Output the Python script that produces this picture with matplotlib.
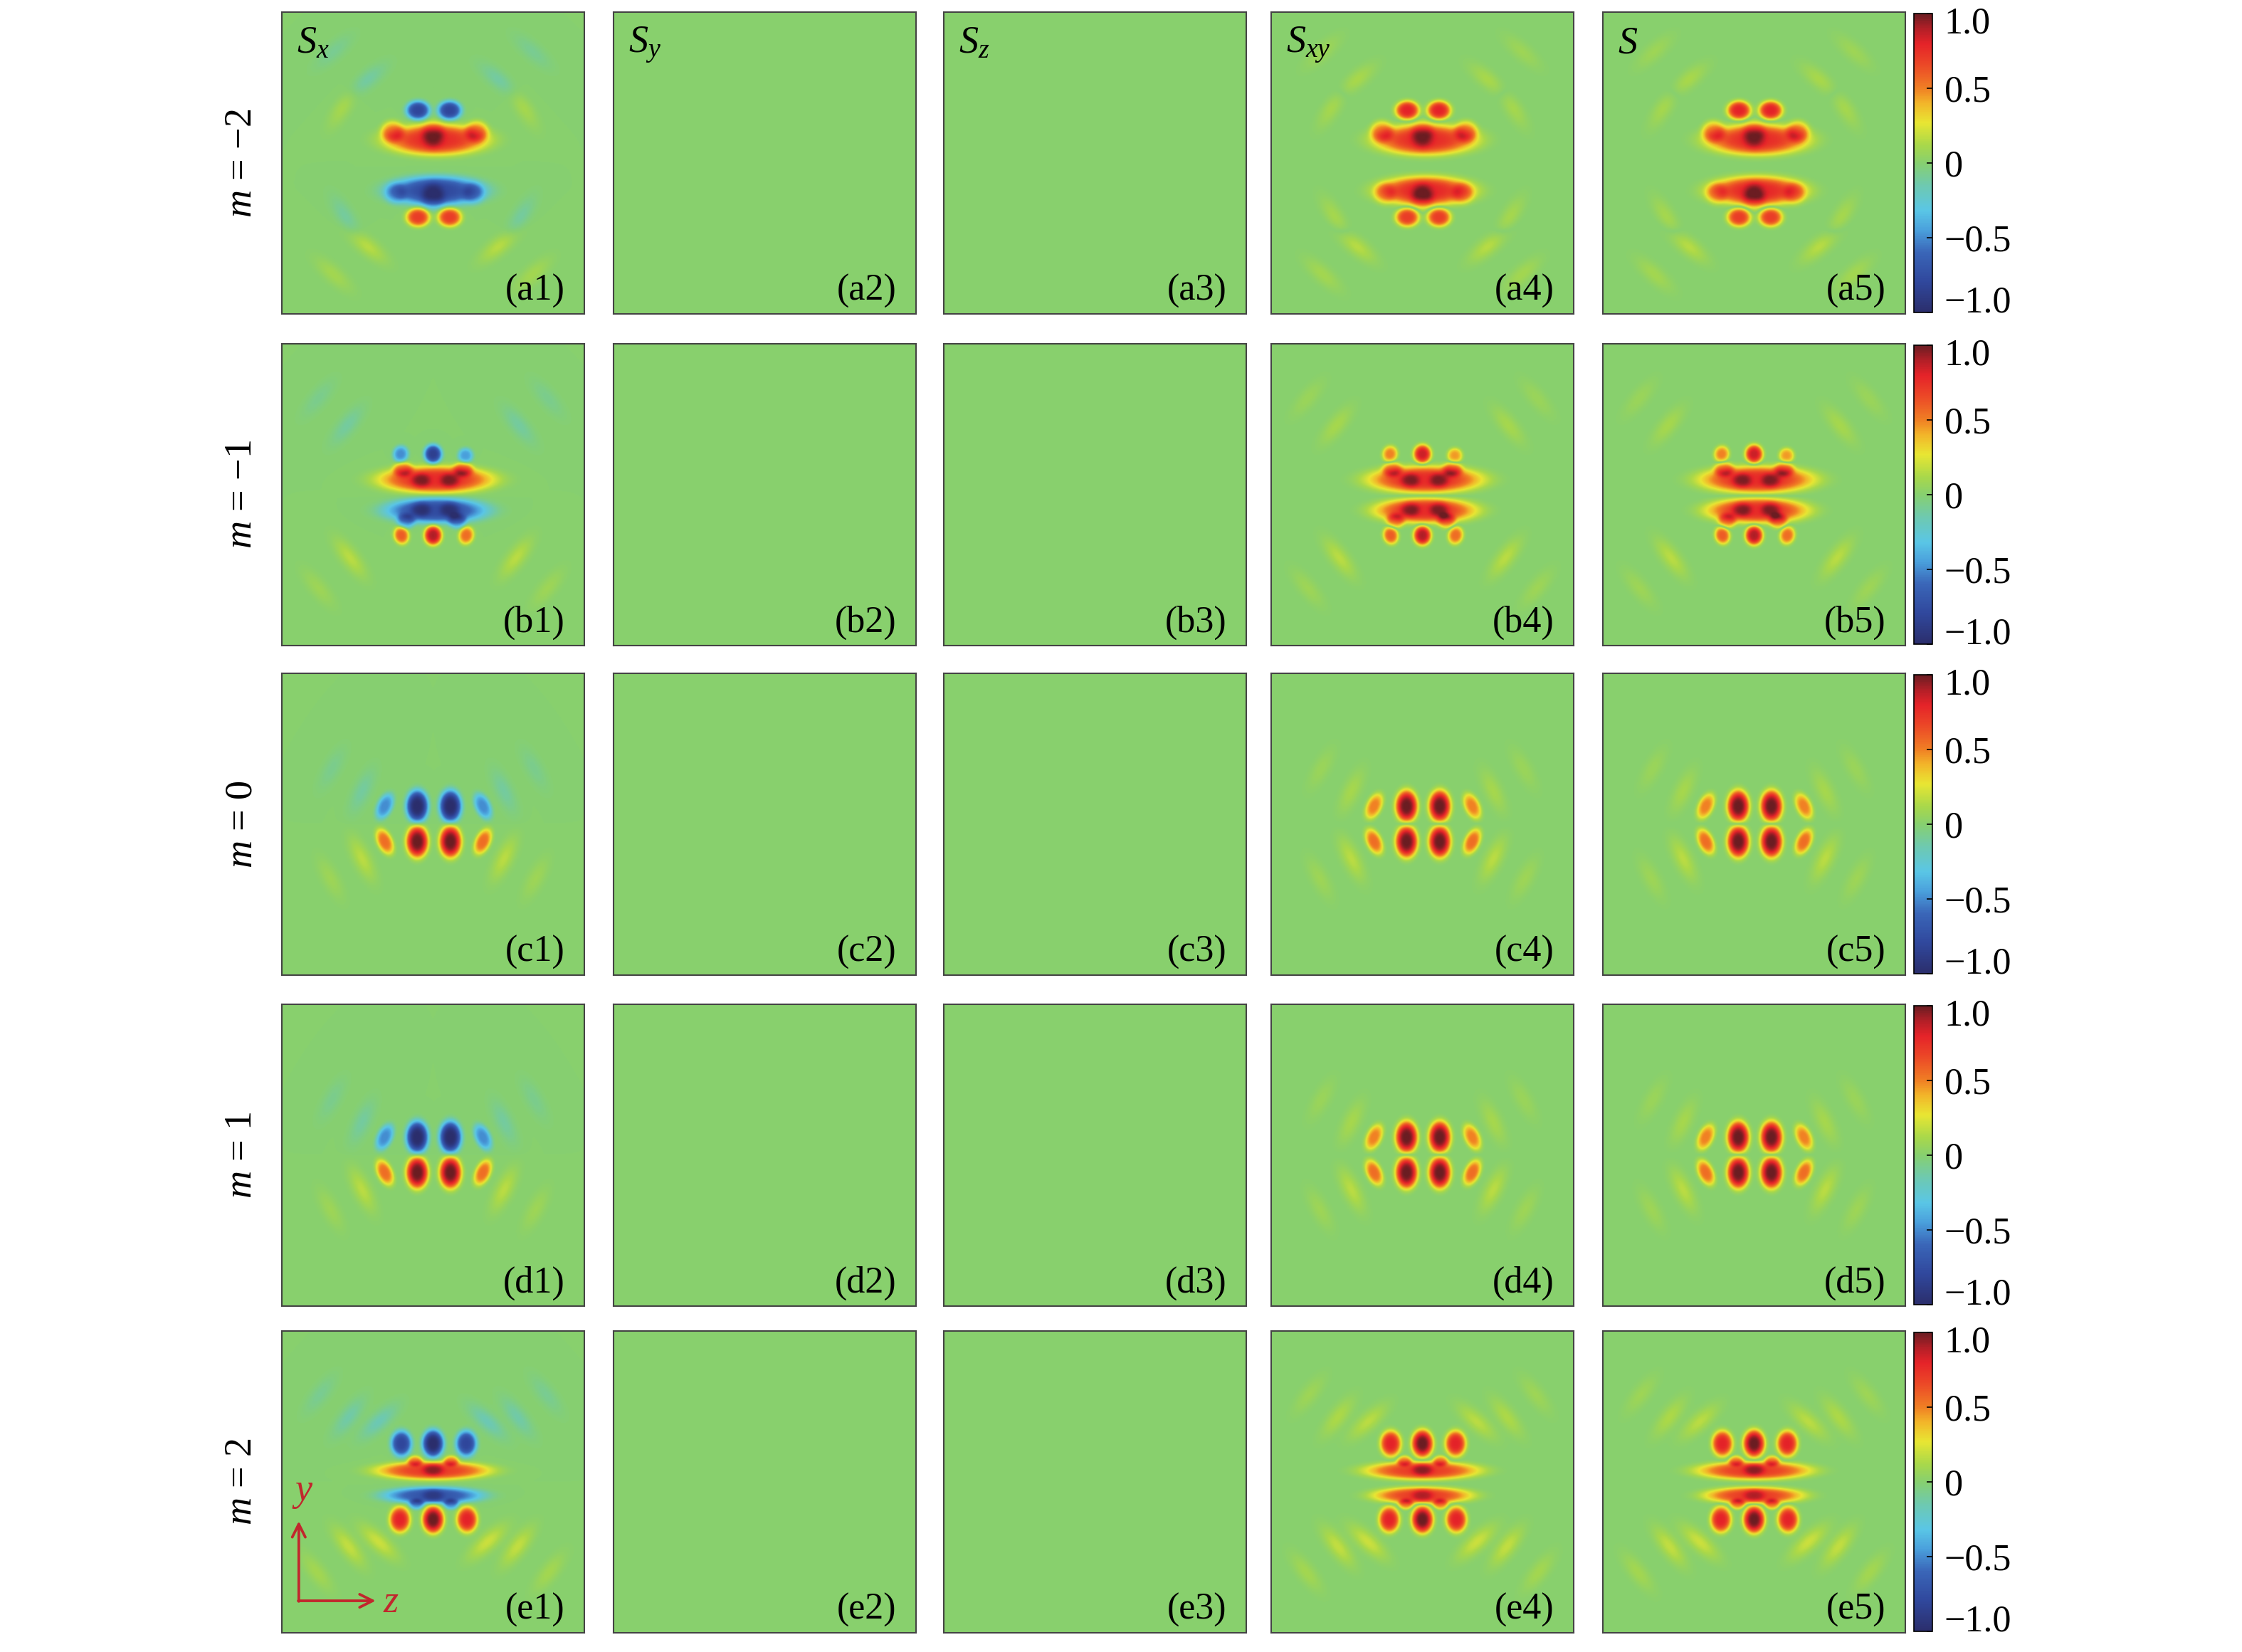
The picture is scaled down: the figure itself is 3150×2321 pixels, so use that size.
import numpy as np
import matplotlib.pyplot as plt
import matplotlib.transforms as mtransforms
from matplotlib.colors import LinearSegmentedColormap

plt.rcParams['font.family'] = ['Liberation Serif', 'DejaVu Serif']
plt.rcParams['mathtext.fontset'] = 'custom'
plt.rcParams['mathtext.rm'] = 'Liberation Serif'
plt.rcParams['mathtext.it'] = 'Liberation Serif:italic'

m_labels = ['\u22122', '\u22121', '0', '1', '2']
row_letters = ['a', 'b', 'c', 'd', 'e']
col_titles = ['$S_x$', '$S_y$', '$S_z$', '$S_{xy}$', '$S$']
cbar_ticks = [-1.0, -0.5, 0.0, 0.5, 1.0]
cbar_labels = ['\u22121.0', '\u22120.5', '0', '0.5', '1.0']

# lobes of S_x: centre (z, y), peak, half widths, tilt (deg)
# m = -2
a_z = [-0.10, 0.11, 0.02, 0.0, -0.27, 0.29, 0.02, 0.0, -0.25, 0.27, -0.10, 0.11]
a_y = [0.35, 0.35, 0.155, 0.19, 0.21, 0.21, -0.185, -0.225, -0.20, -0.20, -0.36, -0.36]
a_amp = [-0.8, -0.8, 0.76, 0.25, 0.4, 0.4, -0.78, -0.25, -0.25, -0.25, 0.7, 0.7]
a_wz = [0.078, 0.078, 0.33, 0.075, 0.075, 0.075, 0.31, 0.075, 0.07, 0.07, 0.078, 0.078]
a_wy = [0.062, 0.062, 0.1, 0.09, 0.07, 0.07, 0.095, 0.09, 0.07, 0.07, 0.062, 0.062]
a_tilt = [0] * 12
a_rip_z = [-0.44, 0.44, -0.44, 0.44, -0.60, 0.60, -0.58, 0.58, -0.66, 0.66, -0.66, 0.66]
a_rip_y = [0.55, 0.55, -0.55, -0.55, 0.37, 0.37, -0.36, -0.36, 0.74, 0.74, -0.74, -0.74]
a_rip_amp = [-0.12, -0.12, 0.16, 0.16, 0.11, 0.11, -0.11, -0.11, -0.08, -0.08, 0.1, 0.1]

# m = -1
b_z = [-0.215, 0.0, 0.215, 0.02, -0.08, 0.11, -0.2, 0.2,
       0.02, -0.08, 0.11, -0.18, 0.16, -0.21, 0.0, 0.22]
b_y = [0.27, 0.27, 0.26, 0.10, 0.095, 0.095, 0.17, 0.17,
       -0.105, -0.10, -0.10, -0.175, -0.175, -0.27, -0.27, -0.27]
b_amp = [-0.5, -0.85, -0.45, 0.76, 0.22, 0.22, 0.4, 0.4,
         -0.76, -0.22, -0.22, -0.4, -0.4, 0.6, 0.9, 0.55]
b_wz = [0.05, 0.058, 0.05, 0.37, 0.065, 0.065, 0.065, 0.065,
        0.33, 0.065, 0.065, 0.06, 0.06, 0.05, 0.058, 0.05]
b_wy = [0.055, 0.062, 0.05, 0.088, 0.05, 0.05, 0.05, 0.05,
        0.082, 0.05, 0.05, 0.05, 0.05, 0.06, 0.065, 0.06]
b_tilt = [-15, 0, 15, 0, 0, 0, 0, 0, 0, 0, 0, 0, 0, 15, 0, -15]
b_rip_z = [-0.57, 0.57, -0.55, 0.55, -0.76, 0.76, -0.76, 0.76]
b_rip_y = [0.46, 0.46, -0.42, -0.42, 0.64, 0.64, -0.62, -0.62]
b_rip_amp = [-0.11, -0.11, 0.16, 0.16, -0.07, -0.07, 0.08, 0.08]

# m = 0 (m = 1 looks the same)
c_z = [-0.32, -0.105, 0.115, 0.33, -0.32, -0.105, 0.115, 0.33]
c_y = [0.12, 0.12, 0.12, 0.12, -0.115, -0.115, -0.115, -0.115]
c_amp = [-0.5, -1.0, -1.0, -0.5, 0.55, 1.0, 1.0, 0.55]
c_wz = [0.05, 0.072, 0.072, 0.05, 0.05, 0.072, 0.072, 0.05]
c_wy = [0.09, 0.105, 0.105, 0.09, 0.09, 0.105, 0.105, 0.09]
c_tilt = [-25, 0, 0, 25, 25, 0, 0, -25]
c_rip_z = [-0.47, 0.47, -0.47, 0.47, -0.67, 0.67, -0.68, 0.68]
c_rip_y = [0.22, 0.22, -0.23, -0.23, 0.37, 0.37, -0.36, -0.36]
c_rip_amp = [-0.11, -0.11, 0.16, 0.16, -0.07, -0.07, 0.08, 0.08]

d_z, d_y, d_amp, d_wz, d_wy, d_tilt = c_z, c_y, c_amp, c_wz, c_wy, c_tilt
d_rip_z, d_rip_y, d_rip_amp = c_rip_z, c_rip_y, c_rip_amp

# m = 2
e_z = [-0.21, 0.0, 0.22, 0.0, 0.0, -0.12, 0.12,
       0.0, 0.0, -0.11, 0.12, -0.22, 0.0, 0.225]
e_y = [0.255, 0.255, 0.255, 0.075, 0.08, 0.14, 0.14,
       -0.09, -0.09, -0.148, -0.148, -0.25, -0.25, -0.25]
e_amp = [-0.8, -1.0, -0.8, 0.7, 0.25, 0.45, 0.45,
         -0.7, -0.2, -0.45, -0.45, 0.8, 1.0, 0.8]
e_wz = [0.068, 0.07, 0.068, 0.37, 0.07, 0.05, 0.05,
        0.32, 0.07, 0.05, 0.05, 0.068, 0.07, 0.068]
e_wy = [0.085, 0.09, 0.085, 0.06, 0.04, 0.035, 0.035,
        0.055, 0.04, 0.035, 0.035, 0.085, 0.09, 0.085]
e_tilt = [0] * 14
e_rip_z = [-0.36, 0.36, -0.56, 0.56, -0.75, 0.75, -0.36, 0.36, -0.56, 0.56, -0.77, 0.77]
e_rip_y = [0.40, 0.40, 0.43, 0.43, 0.58, 0.58, -0.40, -0.40, -0.43, -0.43, -0.60, -0.60]
e_rip_amp = [-0.16, -0.16, -0.13, -0.13, -0.08, -0.08, 0.2, 0.2, 0.18, 0.18, 0.1, 0.1]

rows = [
    (a_z, a_y, a_amp, a_wz, a_wy, a_tilt, a_rip_z, a_rip_y, a_rip_amp),
    (b_z, b_y, b_amp, b_wz, b_wy, b_tilt, b_rip_z, b_rip_y, b_rip_amp),
    (c_z, c_y, c_amp, c_wz, c_wy, c_tilt, c_rip_z, c_rip_y, c_rip_amp),
    (d_z, d_y, d_amp, d_wz, d_wy, d_tilt, d_rip_z, d_rip_y, d_rip_amp),
    (e_z, e_y, e_amp, e_wz, e_wy, e_tilt, e_rip_z, e_rip_y, e_rip_amp),
]

# jet-like colour scale of the figure
cmap_vals = [-1, -0.8, -0.6, -0.45, -0.32, -0.15, 0, 0.12, 0.27, 0.4, 0.5, 0.65, 0.8, 0.9, 1]
cmap_cols = ['#2b2e6c', '#30479c', '#3a66b8', '#4aa0dc', '#5ac6e6', '#6ec9b0', '#87d06f',
             '#a9d84a', '#e8e633', '#f2b62a', '#f08024', '#ec4b27', '#e52329', '#b31f27', '#6b1d22']
cmap = LinearSegmentedColormap.from_list(
    'spin', [((v + 1) / 2, c) for v, c in zip(cmap_vals, cmap_cols)])

N = 401
g = np.linspace(-1, 1, N)
Z, Y = np.meshgrid(g, g)


def blobs(zs, ys, amps, wz, wy, tilt, p):
    f = np.zeros_like(Z)
    for z0, y0, a, sz, sy, t in zip(zs, ys, amps, wz, wy, tilt):
        th = np.deg2rad(t)
        u = (Z - z0) * np.cos(th) + (Y - y0) * np.sin(th)
        v = -(Z - z0) * np.sin(th) + (Y - y0) * np.cos(th)
        f += a * np.exp(-((u / sz) ** 2 + (v / sy) ** 2) ** p)
    return f


def sx_field(z, y, amp, wz, wy, tilt, rz, ry, ramp):
    f = blobs(z, y, amp, wz, wy, tilt, 1.8)
    # faint side ripples, stretched along the arcs round the centre
    rt = [np.degrees(np.arctan2(yy, zz)) for zz, yy in zip(rz, ry)]
    f += blobs(rz, ry, ramp, [0.055] * len(rz), [0.15] * len(rz), rt, 1.0)
    return np.clip(f, -1, 1)


W, H = 3150, 2321
fig = plt.figure(figsize=(W / 300, H / 300), dpi=300)

col_left = [396, 862, 1326, 1786, 2252]
row_top = [17, 483, 946, 1411, 1870]
pw, ph = 425, 424
red = '#c1272d'

for i in range(5):
    sx = sx_field(*rows[i])
    sy = np.zeros_like(sx)
    sz = np.zeros_like(sx)
    sxy = np.sqrt(sx ** 2 + sy ** 2)
    s = np.sqrt(sx ** 2 + sy ** 2 + sz ** 2)
    fields = [sx, sy, sz, sxy, s]
    for j in range(5):
        ax = fig.add_axes([col_left[j] / W, 1 - (row_top[i] + ph) / H, pw / W, ph / H])
        im = ax.imshow(fields[j], origin='lower', extent=(-1, 1, -1, 1), cmap=cmap,
                       vmin=-1, vmax=1, interpolation='bilinear', aspect='auto')
        ax.set_xticks([])
        ax.set_yticks([])
        for sp in ax.spines.values():
            sp.set_linewidth(0.5)
            sp.set_color('#444444')
        ax.text(0.935, 0.02, f'({row_letters[i]}{j + 1})', transform=ax.transAxes,
                ha='right', va='bottom', fontsize=12.5)
        if i == 0:
            ax.text(0.05, 0.955, col_titles[j], transform=ax.transAxes,
                    ha='left', va='top', fontsize=13)
        if i == 4 and j == 0:
            ax.annotate('', xy=(0.056, 0.37), xytext=(0.056, 0.104), xycoords='axes fraction',
                        arrowprops=dict(arrowstyle='->', color=red, lw=0.9, mutation_scale=11,
                                        shrinkA=0, shrinkB=0))
            ax.annotate('', xy=(0.31, 0.106), xytext=(0.054, 0.106), xycoords='axes fraction',
                        arrowprops=dict(arrowstyle='->', color=red, lw=0.9, mutation_scale=11,
                                        shrinkA=0, shrinkB=0))
            ax.text(0.07, 0.465, '$y$', transform=ax.transAxes, color=red,
                    ha='center', va='center', fontsize=13)
            ax.text(0.335, 0.10, '$z$', transform=ax.transAxes, color=red,
                    ha='left', va='center', fontsize=13)

    cax = fig.add_axes([2689 / W, 1 - (row_top[i] + ph - 2) / H, 26 / W, (ph - 4) / H])
    cb = fig.colorbar(im, cax=cax, ticks=cbar_ticks)
    cb.set_ticklabels(cbar_labels)
    cb.outline.set_linewidth(0.4)
    cax.tick_params(direction='in', length=2, width=0.4, labelsize=12.5, pad=4)
    # end labels sit a little inside the bar, as in the figure
    tl = cax.get_yticklabels()
    tl[0].set_transform(tl[0].get_transform()
                        + mtransforms.ScaledTranslation(0, 4.5 / 72, fig.dpi_scale_trans))
    tl[-1].set_transform(tl[-1].get_transform()
                         + mtransforms.ScaledTranslation(0, -2.2 / 72, fig.dpi_scale_trans))

    fig.text(340 / W, 1 - (row_top[i] + ph / 2) / H, '$m$ = ' + m_labels[i],
             rotation=90, ha='center', va='center', fontsize=13)

fig.savefig('out.png', dpi=300)
